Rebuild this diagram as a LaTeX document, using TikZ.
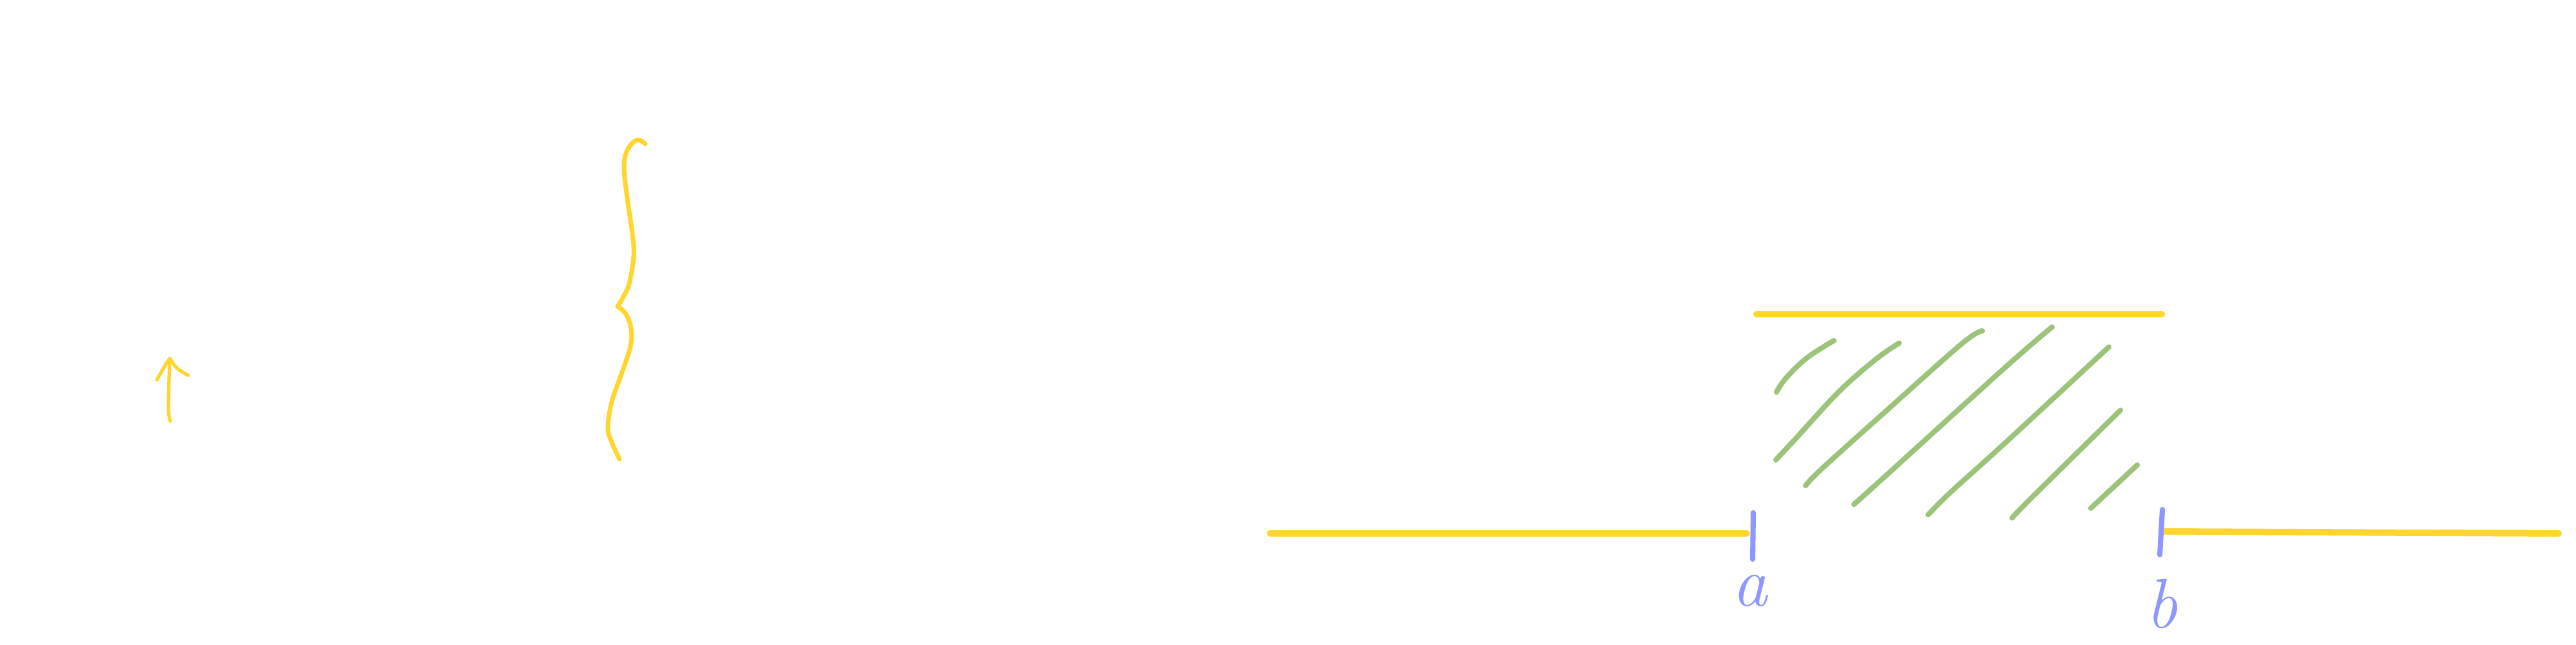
\documentclass[tikz,border=0pt]{standalone}
\usepackage{tikz}
\usetikzlibrary{arrows.meta,positioning}
\definecolor{sketchyellow}{HTML}{FFD52E}
\definecolor{sketchgreen}{HTML}{9BC47A}
\definecolor{sketchblue}{HTML}{8C97FF}

\begin{document}
\begin{tikzpicture}[line cap=round,line join=round,
  yline/.style={draw=sketchyellow,line width=2.85pt},
  ypen/.style={draw=sketchyellow,line width=1.5pt},
  bracepen/.style={draw=sketchyellow,line width=2pt},
  hatchline/.style={draw=sketchgreen,line width=2.3pt},
  endtick/.style={draw=sketchblue,line width=2.3pt},
  lbl/.style={text=sketchblue,font=\fontsize{31}{36}\selectfont\itshape,inner sep=0pt}]
\path[use as bounding box] (0,0) rectangle (39.92000000,10.00000000);
% small arrow on the left
\coordinate (arrtail) at (2.64000000,3.47000000);
\coordinate (arrtip) at (2.63000000,4.44000000);
\draw[ypen] (arrtail) .. controls (2.61000000,3.57000000) .. (2.61000000,3.80000000) -- (arrtip);
\draw[ypen] (2.43000000,4.11000000) -- (2.58000000,4.37000000) -- (arrtip)
  .. controls (2.74000000,4.28000000) .. (2.92000000,4.18000000);
% curly brace
\coordinate (bracemid) at (9.57000000,5.25000000);
\draw[bracepen] plot[smooth,tension=0.6] coordinates {(10.00000000,7.77000000) (9.87000000,7.83000000) (9.72000000,7.67000000) (9.67000000,7.40000000) (9.72000000,6.93000000) (9.80000000,6.37000000) (9.82000000,6.03000000) (9.75000000,5.60000000) (9.65000000,5.38000000) (bracemid)};
\draw[bracepen] plot[smooth,tension=0.6] coordinates {(bracemid) (9.70000000,5.13000000) (9.78000000,4.90000000) (9.77000000,4.63000000) (9.63000000,4.20000000) (9.48000000,3.77000000) (9.42000000,3.37000000) (9.47000000,3.17000000) (9.60000000,2.88000000)};
% yellow segments
\coordinate (topl) at (27.22000000,5.13000000);
\coordinate (topr) at (33.50000000,5.13000000);
\coordinate (leftl) at (19.68000000,1.73000000);
\coordinate (leftr) at (27.07000000,1.73000000);
\coordinate (rightl) at (33.51000000,1.76000000);
\coordinate (rightr) at (39.65000000,1.73000000);
\draw[yline] (topl) -- (topr);
\draw[yline] (leftl) -- (leftr);
\draw[yline] (rightl) -- (rightr);
% hatching
\draw[hatchline] plot[smooth,tension=0.6] coordinates {(27.53000000,3.92000000) (27.67000000,4.13000000) (28.00000000,4.45000000) (28.42000000,4.72000000)};
\draw[hatchline] plot[smooth,tension=0.6] coordinates {(27.52000000,2.87000000) (27.80000000,3.17000000) (28.50000000,3.93000000) (29.07000000,4.43000000) (29.43000000,4.68000000)};
\draw[hatchline] plot[smooth,tension=0.6] coordinates {(27.98000000,2.47000000) (28.23000000,2.73000000) (29.23000000,3.63000000) (30.40000000,4.67000000) (30.72000000,4.87000000)};
\draw[hatchline] plot[smooth,tension=0.6] coordinates {(28.73000000,2.18000000) (29.23000000,2.63000000) (31.07000000,4.30000000) (31.80000000,4.93000000)};
\draw[hatchline] plot[smooth,tension=0.6] coordinates {(29.88000000,2.02000000) (30.23000000,2.37000000) (31.07000000,3.13000000) (32.68000000,4.62000000)};
\draw[hatchline] plot[smooth,tension=0.6] coordinates {(31.18000000,1.97000000) (31.50000000,2.30000000) (32.86000000,3.64000000)};
\draw[hatchline] (32.40000000,2.12000000) -- (33.12000000,2.79000000);
% end marks and labels
\coordinate (tickatop) at (27.17000000,2.05000000);
\coordinate (tickabot) at (27.16000000,1.33000000);
\coordinate (tickbtop) at (33.51000000,2.10000000);
\coordinate (tickbbot) at (33.47000000,1.40000000);
\draw[endtick] (tickatop) -- (tickabot);
\draw[endtick] (tickbtop) -- (tickbbot);
\node[lbl] (labela) at (27.12000000,0.84000000) {a};
\node[lbl] (labelb) at (33.50000000,0.64000000) {b};
\end{tikzpicture}
\end{document}
